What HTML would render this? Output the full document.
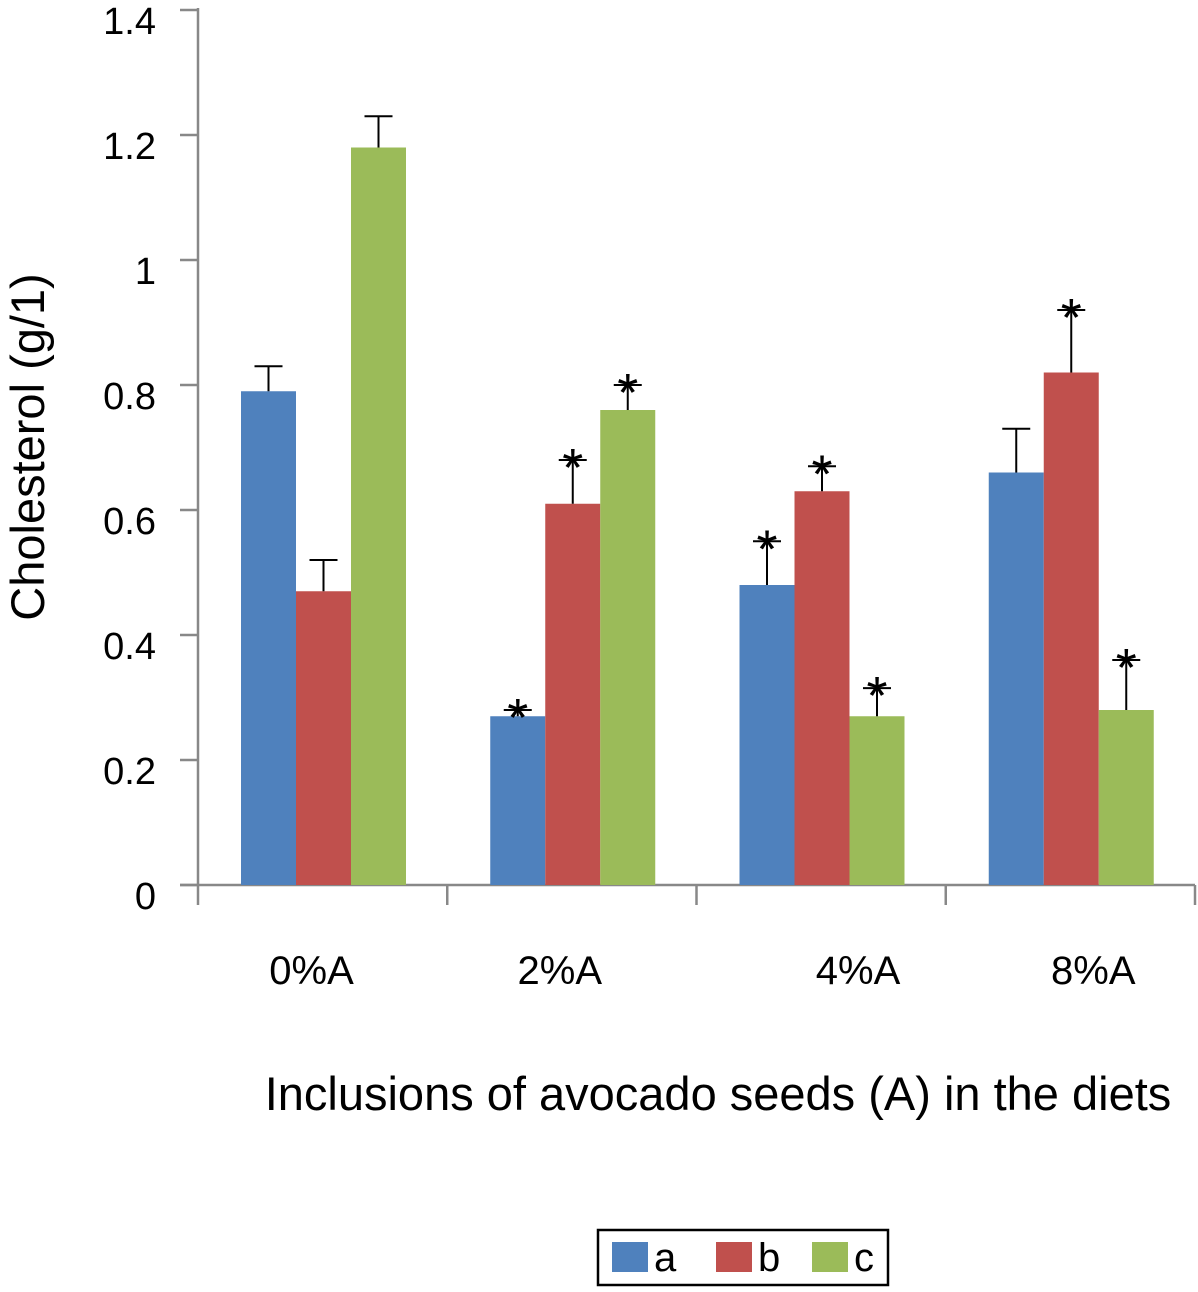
<!DOCTYPE html>
<html><head><meta charset="utf-8"><style>
html,body{margin:0;padding:0;background:#fff;}
svg text{font-family:"Liberation Sans",sans-serif;fill:#000;}
</style></head><body>
<svg id="chart" width="1198" height="1287" viewBox="0 0 1198 1287" xmlns="http://www.w3.org/2000/svg">
<g id="axes"></g><g id="bars"></g><g id="errs"></g>
<text x="44" y="447" font-size="47" text-anchor="middle" transform="rotate(-90 44 447)">Cholesterol (g/1)</text>
<text x="718" y="1110" font-size="47" text-anchor="middle">Inclusions of avocado seeds (A) in the diets</text>
<g>
<rect x="598" y="1230" width="290" height="55" fill="#fff" stroke="#000" stroke-width="2.5"/>
<rect x="612" y="1242" width="36" height="30" fill="#4f81bd"/>
<text x="654" y="1271" font-size="40">a</text>
<rect x="716" y="1242" width="36" height="30" fill="#c0504d"/>
<text x="758" y="1271" font-size="40">b</text>
<rect x="812" y="1242" width="36" height="30" fill="#9bbb59"/>
<text x="854" y="1271" font-size="40">c</text>
</g>
</svg>
<script>
const categories=["0%A","2%A","4%A","8%A"];
const seriesA=[0.79,0.27,0.48,0.66];
const seriesB=[0.47,0.61,0.63,0.82];
const seriesC=[1.18,0.76,0.27,0.28];
const errA=[0.04,0.01,0.07,0.07];
const errB=[0.05,0.07,0.04,0.10];
const errC=[0.05,0.04,0.045,0.08];
const starA=[false,true,true,false];
const starB=[false,true,true,true];
const starC=[false,true,true,true];
const yTicks=[0,0.2,0.4,0.6,0.8,1,1.2,1.4];
const yTickLabels=["0","0.2","0.4","0.6","0.8","1","1.2","1.4"];

const NS="http://www.w3.org/2000/svg";
const X0=198,X1=1195,Y0=885,PX=625;
const labelShift=[-12,-13,36,22];
const cw=(X1-X0)/categories.length,bw=55,off=43;
function y(v){return Y0-v*PX;}
function mk(tag,attrs,parent){const e=document.createElementNS(NS,tag);for(const k in attrs)e.setAttribute(k,attrs[k]);parent.appendChild(e);return e;}
const axes=document.getElementById('axes'),bars=document.getElementById('bars'),errs=document.getElementById('errs');
let el=mk('line',{x1:X0,y1:8,x2:X0,y2:Y0,stroke:'#888','stroke-width':2.5},axes);


el=mk('line',{x1:180,y1:Y0,x2:X1,y2:Y0,stroke:'#888','stroke-width':2.5},axes);


yTicks.forEach((t,i)=>{
  let tk=mk('line',{x1:180,y1:y(t),x2:X0,y2:y(t),stroke:'#888','stroke-width':2.5},axes);
  
  
  let tx=mk('text',{x:156,y:y(t)+24,'font-size':38,'text-anchor':'end'},axes);
  tx.textContent=yTickLabels[i];
  
  
});
for(let i=0;i<=categories.length;i++){
  let tk=mk('line',{x1:X0+i*cw,y1:Y0,x2:X0+i*cw,y2:Y0+20,stroke:'#888','stroke-width':2.5},axes);
  
  
}
const series=[[seriesA,errA,starA,'#4f81bd','a'],[seriesB,errB,starB,'#c0504d','b'],[seriesC,errC,starC,'#9bbb59','c']];
categories.forEach((c,i)=>{
  const gx=X0+i*cw+off;
  let tx=mk('text',{x:gx+bw*1.5+labelShift[i],y:984,'font-size':40,'text-anchor':'middle'},axes);
  tx.textContent=c;
  
  
  series.forEach((s,j)=>{
    const v=s[0][i],e=s[1][i];
    const bx=gx+j*bw;
    let r=mk('rect',{x:bx,y:y(v),width:bw,height:Y0-y(v),fill:s[3]},bars);
    
    
    const cx=bx+bw/2;
    let l=mk('line',{x1:cx,y1:y(v),x2:cx,y2:y(v+e),stroke:'#000','stroke-width':2},errs);
    
    
    let cap=mk('line',{x1:cx-14,y1:y(v+e),x2:cx+14,y2:y(v+e),stroke:'#000','stroke-width':2},errs);
    
    
    if(s[2][i]){
      let st=mk('text',{x:cx,y:y(v+e)+26,'font-size':54,'text-anchor':'middle'},errs);
      st.textContent='*';
      
      
    }
  });
});
</script>
</body></html>
